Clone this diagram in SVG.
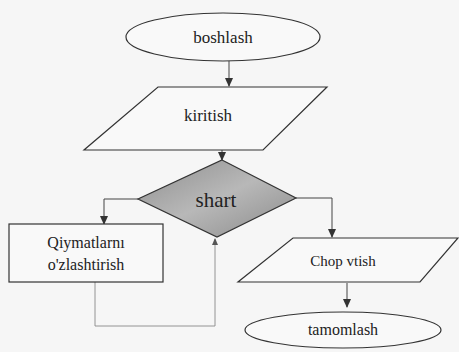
<svg xmlns="http://www.w3.org/2000/svg" width="459" height="352" viewBox="0 0 459 352">
<defs>
<style>
.s{fill:none;stroke:#333;stroke-width:1.2}
.w{fill:#f9f9f9;stroke:#333;stroke-width:1.2}
.c{fill:none;stroke:#444;stroke-width:1}
.l{fill:none;stroke:#888;stroke-width:0.9}
.t{font-family:"Liberation Serif","Times New Roman",serif;fill:#222;text-anchor:middle}
</style>
<linearGradient id="g" x1="0" y1="0" x2="1" y2="1">
<stop offset="0" stop-color="#8e8e8e"/>
<stop offset="0.5" stop-color="#b8b8b8"/>
<stop offset="1" stop-color="#8a8a8a"/>
</linearGradient>
<marker id="a" markerWidth="10" markerHeight="10" refX="8" refY="5" orient="auto" markerUnits="userSpaceOnUse">
<path d="M0,1 L9,5 L0,9 Z" fill="#333"/>
</marker>
<marker id="b" markerWidth="8" markerHeight="8" refX="6" refY="4" orient="auto" markerUnits="userSpaceOnUse">
<path d="M0,1 L7,4 L0,7 Z" fill="#555"/>
</marker>
</defs>
<rect width="459" height="352" fill="#f6f6f6"/>
<g id="connectors">
<path class="c" d="M229,61 V86" marker-end="url(#a)"/>
<path class="c" d="M222,150 V160" marker-end="url(#a)"/>
<path class="c" d="M138,199 H104 V224" marker-end="url(#a)"/>
<path class="c" d="M296,198 H332 V237" marker-end="url(#a)"/>
<path class="l" d="M95,282 V326 H215 V239" marker-end="url(#b)"/>
<path class="c" d="M347,283 V307" marker-end="url(#a)"/>
</g>
<g id="boshlash">
<ellipse class="w" cx="223" cy="37" rx="97" ry="24"/>
<text class="t" x="223" y="43" font-size="17">boshlash</text>
</g>
<g id="kiritish">
<polygon class="w" points="158,87 327,87 263,150 84,150"/>
<text class="t" x="208" y="121" font-size="17">kiritish</text>
</g>
<g id="shart">
<polygon points="222,160 296,198 217,237 138,199" fill="url(#g)" stroke="#333" stroke-width="1.2"/>
<text class="t" x="216" y="207" font-size="21">shart</text>
</g>
<g id="qiymat">
<rect class="w" x="9" y="224" width="154" height="58"/>
<text class="t" x="86" y="248" font-size="16">Qiymatlarnı</text>
<text class="t" x="86" y="270" font-size="16">o'zlashtirish</text>
</g>
<g id="chop">
<polygon class="w" points="293,238 458,238 420,282 238,282"/>
<text class="t" x="343" y="266" font-size="15">Chop vtish</text>
</g>
<g id="tamomlash">
<ellipse class="w" cx="343" cy="330" rx="98" ry="18"/>
<text class="t" x="343" y="335" font-size="16">tamomlash</text>
</g>
</svg>
